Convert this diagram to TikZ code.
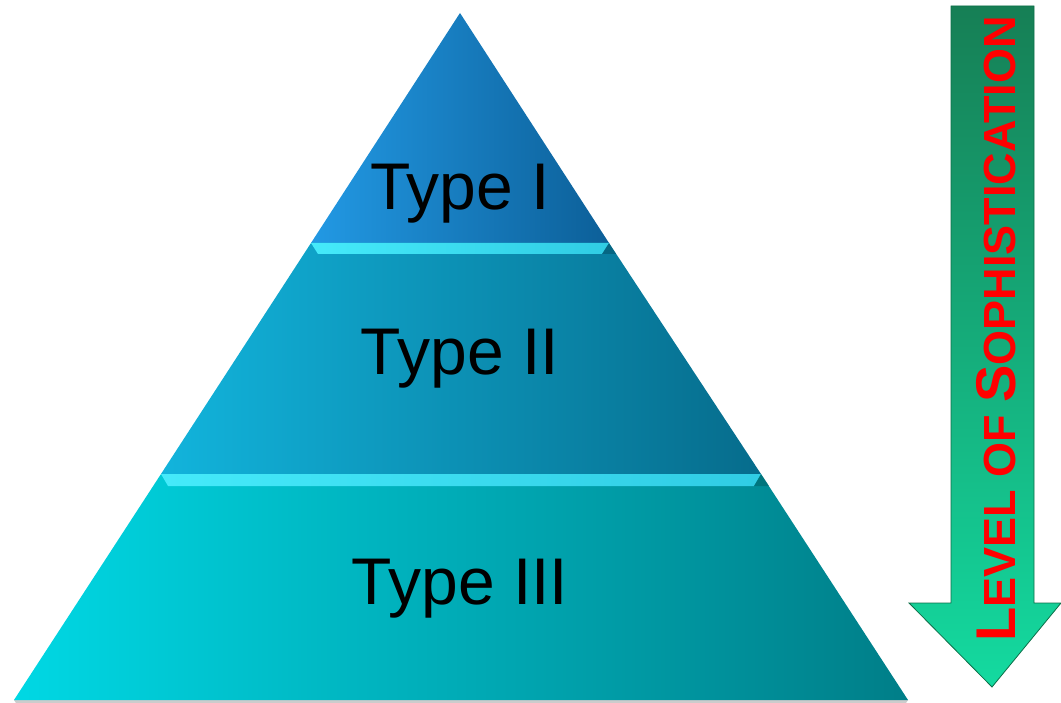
\documentclass[tikz,border=0pt]{standalone}
\usepackage{fontspec}
\setmainfont{Liberation Sans}
\begin{document}
\begin{tikzpicture}[x=1pt,y=-1pt,
  bandlabel/.style={font=\fontsize{66}{66}\selectfont, text=black, inner sep=0pt},
  striptop/.style={left color=bevelL, right color=bevelR, draw=none},
  vlabel/.style={text=red, font=\bfseries, inner sep=0pt, rotate=90, anchor=base}]
\definecolor{bOneL}{HTML}{2299E4}
\definecolor{bOneM}{HTML}{1689D4}
\definecolor{bOneR}{HTML}{0C5F98}
\definecolor{bTwoL}{HTML}{12B4DC}
\definecolor{bTwoM}{HTML}{0AA0C8}
\definecolor{bTwoR}{HTML}{066C8C}
\definecolor{bThrL}{HTML}{00D8E4}
\definecolor{bThrM}{HTML}{00BECA}
\definecolor{bThrR}{HTML}{007E88}
\definecolor{bevelL}{HTML}{45EAFA}
\definecolor{bevelR}{HTML}{30CCE4}
\definecolor{arrTop}{HTML}{167F55}
\definecolor{arrBot}{HTML}{14DAA0}
\definecolor{arrEdge}{HTML}{0C6E48}
\useasboundingbox (0,0) rectangle (1061,703);
% shadow under base
\fill[gray!40] (14,700) -- (908,700) -- (906,703) -- (16,703) -- cycle;
% bands
\shade[left color=bOneL, middle color=bOneM, right color=bOneR] (460,13) -- (609,243) -- (311,243) -- cycle;
\shade[left color=bTwoL, middle color=bTwoM, right color=bTwoR] (311,243) -- (609,243) -- (761,474) -- (161,474) -- cycle;
\shade[left color=bThrL, middle color=bThrM, right color=bThrR] (161,474) -- (761,474) -- (908,700) -- (14,700) -- cycle;
% bevel strips
\shade[striptop] (311,243) -- (609,243) -- (602,254) -- (318,254) -- cycle;
\fill[bTwoR!80!black, opacity=0.6] (609,243) -- (616,254) -- (602,254) -- cycle;
\shade[striptop] (161,474) -- (761,474) -- (754,486) -- (168,486) -- cycle;
\fill[bThrR!80!black, opacity=0.6] (761,474) -- (769,486) -- (754,486) -- cycle;
% labels
\node[bandlabel] (t1) at (460,194) {Type I};
\node[bandlabel] (t2) at (460,359) {Type II};
\node[bandlabel] (t3) at (460,589) {Type III};
% arrow
\shade[top color=arrTop, bottom color=arrBot, draw=arrEdge, line width=0.8pt]
  (951,6) -- (1034,6) -- (1034,603) -- (1061,603) -- (992,687) -- (909,603) -- (951,603) -- cycle;
\node[vlabel] (lvl) at (1015,329) {{\fontsize{56}{56}\selectfont L}{\fontsize{45}{45}\selectfont EVEL OF }{\fontsize{56}{56}\selectfont S}{\fontsize{45}{45}\selectfont OPHISTICATION}};
\end{tikzpicture}
\end{document}
